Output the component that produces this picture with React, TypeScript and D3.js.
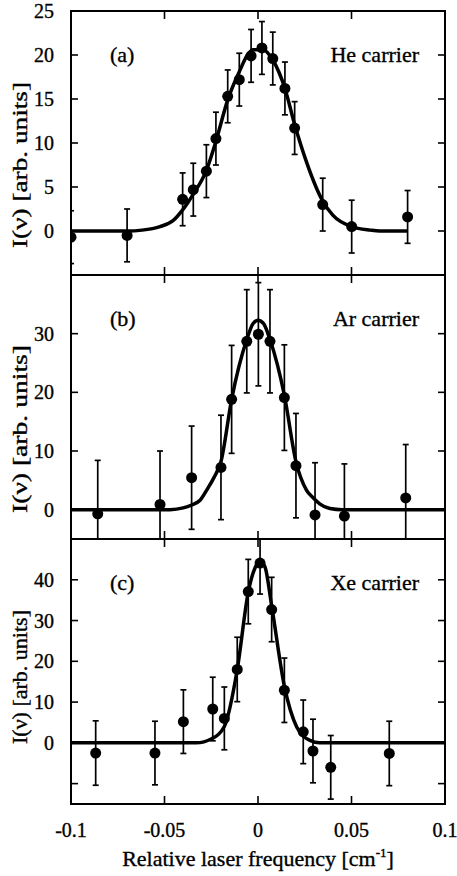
import React from 'react';
import * as d3 from 'd3';

// Three stacked panels: laser-frequency scans with fitted line profiles.

const W = 457;
const H = 876;
const LEFT = 71;
const RIGHT = 445;

const xTicks = [-0.1, -0.05, 0, 0.05, 0.1];
const xTickLabels = ['-0.1', '-0.05', '0', '0.05', '0.1'];

// (a) He carrier
const heX = [-0.1, -0.07, -0.0403, -0.0346, -0.0276, -0.0225, -0.0162, -0.01, -0.0037, 0.0021, 0.0079, 0.0144, 0.0196, 0.0346, 0.0501, 0.08];
const heY = [-0.7, -0.5, 3.6, 4.7, 6.8, 10.5, 15.3, 17.2, 19.9, 20.8, 19.6, 16.2, 11.7, 3.0, 0.5, 1.6];
const heErr = [3, 3, 3, 3, 3, 3, 3, 3, 3, 3, 3, 3, 3, 3, 3, 3];
const heFit: [number, number][] = [
  [-0.1, 0], [-0.07, 0], [-0.062, 0.1], [-0.0524, 0.5], [-0.0453, 1.2], [-0.0403, 2.4],
  [-0.0346, 4.2], [-0.0276, 6.9], [-0.0225, 10.2], [-0.0162, 14.9], [-0.01, 18.1],
  [-0.005, 20.2], [-0.0027, 20.6], [0.0027, 20.6], [0.008, 19.4], [0.0144, 16.2],
  [0.0196, 12.1], [0.026, 7.8], [0.0346, 3.4], [0.04, 1.8], [0.05, 0.5], [0.06, 0.1],
  [0.065, 0], [0.08, 0],
];

// (b) Ar carrier
const arX = [-0.0857, -0.0524, -0.0355, -0.0198, -0.0141, -0.006, 0.0002, 0.0064, 0.0141, 0.0203, 0.0305, 0.0462, 0.079];
const arY = [-0.7, 0.9, 5.45, 7.2, 18.8, 28.7, 29.9, 28.7, 19.1, 7.5, -0.9, -1.1, 2.0];
const arErr = [9.1, 9.1, 8.8, 8.9, 9.2, 8.8, 8.8, 8.8, 9.0, 8.9, 8.9, 8.9, 9.1];
const arFit: [number, number][] = [
  [-0.1, 0], [-0.047, 0], [-0.04, 0.3], [-0.0355, 0.8], [-0.031, 1.6], [-0.0275, 3.3],
  [-0.0235, 5.5], [-0.0198, 8.2], [-0.0141, 18.8], [-0.006, 29], [-0.0027, 31.7],
  [0, 32.3], [0.003, 31.7], [0.0064, 29], [0.0141, 19.5], [0.0203, 8.2], [0.026, 3.3],
  [0.0296, 2.0], [0.033, 1.0], [0.0385, 0.2], [0.045, 0], [0.1, 0],
];

// (c) Xe carrier
const xeX = [-0.0868, -0.0551, -0.0399, -0.0242, -0.018, -0.0111, -0.0052, 0.0011, 0.0073, 0.0141, 0.0242, 0.0294, 0.0389, 0.0702];
const xeY = [-2.5, -2.5, 5.2, 8.3, 6.0, 18.0, 37.1, 44.1, 32.7, 12.9, 2.7, -2.0, -6.0, -2.6];
const xeErr = [7.9, 7.8, 7.8, 7.8, 7.7, 7.9, 7.9, 7.6, 7.9, 7.9, 7.8, 7.8, 7.8, 7.9];
const xeFit: [number, number][] = [
  [-0.1, 0], [-0.033, 0], [-0.0248, 1.0], [-0.018, 4.0], [-0.0111, 18], [-0.0052, 37],
  [-0.0016, 42.9], [0.0011, 44.5], [0.0037, 43.2], [0.0073, 33.6], [0.0141, 13.9],
  [0.0207, 3.9], [0.0278, 0.6], [0.033, 0], [0.1, 0],
];

type Panel = {
  id: string;
  tag: string;
  carrier: string;
  top: number;
  bottom: number;
  domain: [number, number];
  ticks: number[];
  labels: number[];
  xs: number[];
  ys: number[];
  errs: number[];
  fit: [number, number][];
  yLabelCenter: number;
  yLabelLength: number;
  tagBase: number;
};

const panels: Panel[] = [
  {
    id: 'a', tag: '(a)', carrier: 'He carrier', top: 11, bottom: 275,
    domain: [-5, 25], ticks: [0, 5, 10, 15, 20], labels: [0, 5, 10, 15, 20, 25],
    xs: heX, ys: heY, errs: heErr, fit: heFit, yLabelCenter: 165, yLabelLength: 166, tagBase: 62,
  },
  {
    id: 'b', tag: '(b)', carrier: 'Ar carrier', top: 275, bottom: 539,
    domain: [-5, 40], ticks: [0, 10, 20, 30], labels: [0, 10, 20, 30],
    xs: arX, ys: arY, errs: arErr, fit: arFit, yLabelCenter: 429, yLabelLength: 168, tagBase: 326,
  },
  {
    id: 'c', tag: '(c)', carrier: 'Xe carrier', top: 539, bottom: 804,
    domain: [-15, 50], ticks: [-10, 0, 10, 20, 30, 40], labels: [0, 10, 20, 30, 40],
    xs: xeX, ys: xeY, errs: xeErr, fit: xeFit, yLabelCenter: 677, yLabelLength: 134, tagBase: 590,
  },
];

const FONT = "'Liberation Serif', 'Times New Roman', Times, 'DejaVu Serif', serif";
// slight stroke thickens the glyphs like the scanned original
const txt = (size: number) => ({ fontFamily: FONT, fontSize: size, stroke: '#000', strokeWidth: 0.35 });

function PanelView({ p, x }: { p: Panel; x: d3.ScaleLinear<number, number> }) {
  const y = d3.scaleLinear().domain(p.domain).range([p.bottom, p.top]);
  const line = d3
    .line<[number, number]>()
    .x((d) => x(d[0]))
    .y((d) => y(d[1]))
    .curve(d3.curveMonotoneX);
  const clipId = `clip-${p.id}`;
  const tickLen = 7;
  return (
    <g>
      <defs>
        <clipPath id={clipId}>
          <rect x={LEFT} y={p.top} width={RIGHT - LEFT} height={p.bottom - p.top} />
        </clipPath>
      </defs>
      {/* y ticks, inside on both sides */}
      {p.ticks.map((t) => (
        <g key={`yt${t}`}>
          <line x1={LEFT} x2={LEFT + tickLen} y1={y(t)} y2={y(t)} stroke="#000" strokeWidth={1.6} />
          <line x1={RIGHT - tickLen} x2={RIGHT} y1={y(t)} y2={y(t)} stroke="#000" strokeWidth={1.6} />
        </g>
      ))}
      {p.labels.map((t) => (
        <text key={`yl${t}`} x={54} y={y(t) + 7} textAnchor="end" style={txt(20)}>
          {t}
        </text>
      ))}
      {/* x ticks, inside top and bottom */}
      {xTicks.slice(1, -1).map((t) => (
        <g key={`xt${t}`}>
          <line x1={x(t)} x2={x(t)} y1={p.top} y2={p.top + 8} stroke="#000" strokeWidth={1.6} />
          <line x1={x(t)} x2={x(t)} y1={p.bottom - 8} y2={p.bottom} stroke="#000" strokeWidth={1.6} />
        </g>
      ))}
      <g clipPath={`url(#${clipId})`}>
        <path d={line(p.fit) ?? ''} fill="none" stroke="#000" strokeWidth={3.5} strokeLinejoin="round" />
        {p.xs.map((xv, i) => {
          const cx = x(xv);
          const y1 = y(p.ys[i] + p.errs[i]);
          const y2 = y(p.ys[i] - p.errs[i]);
          return (
            <g key={`pt${i}`}>
              <line x1={cx} x2={cx} y1={y1} y2={y2} stroke="#000" strokeWidth={1.7} />
              <line x1={cx - 3} x2={cx + 3} y1={y1} y2={y1} stroke="#000" strokeWidth={1.7} />
              <line x1={cx - 3} x2={cx + 3} y1={y2} y2={y2} stroke="#000" strokeWidth={1.7} />
              <circle cx={cx} cy={y(p.ys[i])} r={5.5} fill="#000" />
            </g>
          );
        })}
      </g>
      <rect
        x={LEFT}
        y={p.top}
        width={RIGHT - LEFT}
        height={p.bottom - p.top}
        fill="none"
        stroke="#000"
        strokeWidth={2}
      />
      <text x={110} y={p.tagBase} style={txt(22)}>
        {p.tag}
      </text>
      <text x={419} y={p.tagBase} textAnchor="end" style={txt(22)}>
        {p.carrier}
      </text>
      <text
        transform={`translate(27,${p.yLabelCenter}) rotate(-90)`}
        textAnchor="middle"
        style={txt(20)}
        textLength={p.yLabelLength}
        lengthAdjust="spacingAndGlyphs"
      >
        I(ν) [arb. units]
      </text>
    </g>
  );
}

export default function App() {
  const x = d3.scaleLinear().domain([-0.1, 0.1]).range([LEFT, RIGHT]);
  return (
    <svg
      width={W}
      height={H}
      viewBox={`0 0 ${W} ${H}`}
      style={{ position: 'absolute', left: 0, top: 0, background: '#fff' }}
    >
      <rect width={W} height={H} fill="#fff" />
      {panels.map((p) => (
        <PanelView key={p.id} p={p} x={x} />
      ))}
      {xTicks.map((t, i) => (
        <text key={`xl${t}`} x={x(t)} y={837} textAnchor="middle" style={txt(20)}>
          {xTickLabels[i]}
        </text>
      ))}
      <text x={258} y={866} textAnchor="middle" style={txt(22)}>
        Relative laser frequency [cm
        <tspan style={{ fontSize: 13 }} dy={-9}>-1</tspan>
        <tspan dy={9}>]</tspan>
      </text>
    </svg>
  );
}
